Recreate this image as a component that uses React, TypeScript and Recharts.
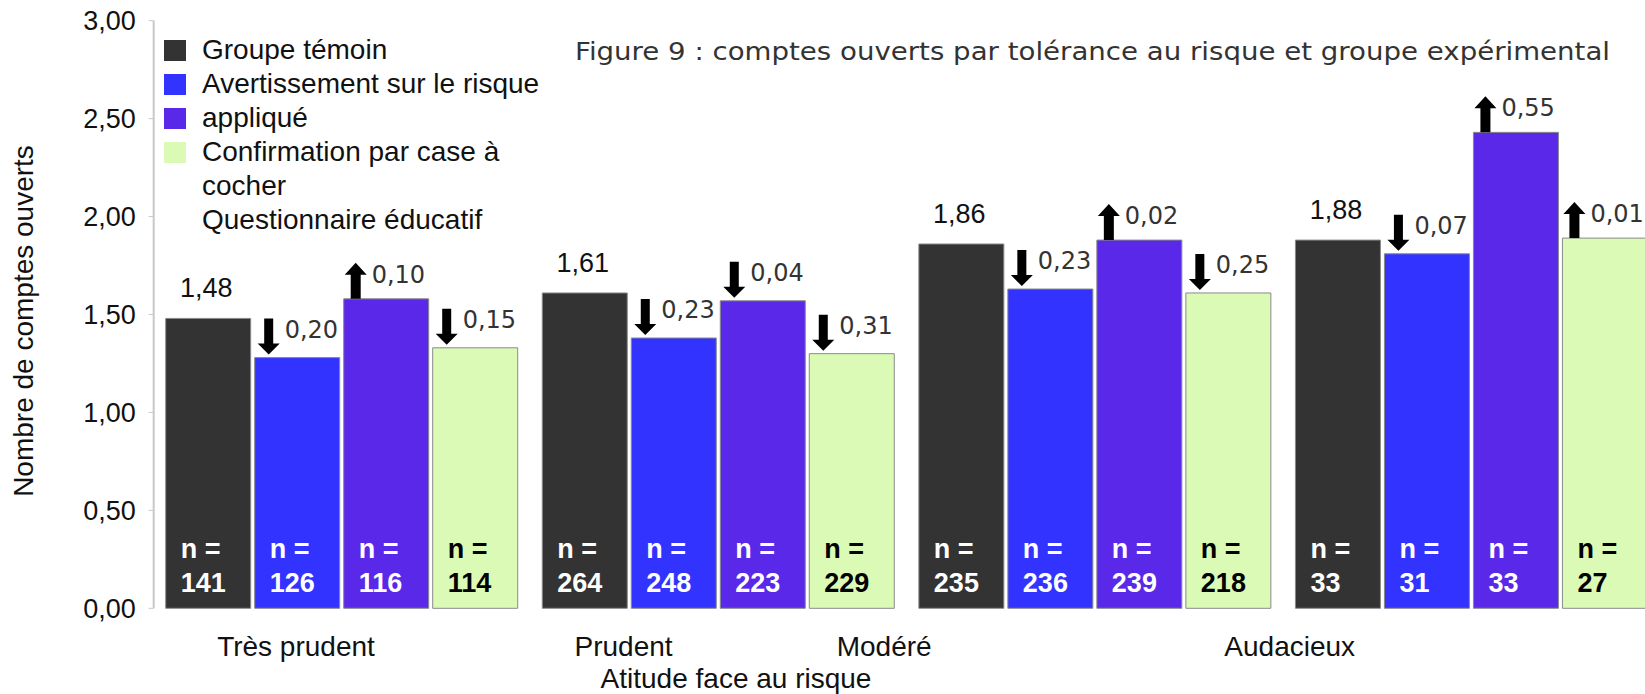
import React from "react";
import { Bar, BarChart, LabelList, Legend, XAxis, YAxis } from "recharts";

const categories = ["Très prudent", "Prudent", "Modéré", "Audacieux"];
const temoin = [1.48, 1.61, 1.86, 1.88];
const avertissement = [1.28, 1.38, 1.63, 1.81];
const applique = [1.58, 1.57, 1.88, 2.43];
const confirmation = [1.33, 1.3, 1.61, 1.89];

// écarts par rapport au groupe témoin
const deltaAvert = [-0.2, -0.23, -0.23, -0.07];
const deltaAppl = [0.1, -0.04, 0.02, 0.55];
const deltaConf = [-0.15, -0.31, -0.25, 0.01];

const nTemoin = [141, 264, 235, 33];
const nAvert = [126, 248, 236, 31];
const nAppl = [116, 223, 239, 33];
const nConf = [114, 229, 218, 27];

const yTicks = [0, 0.5, 1, 1.5, 2, 2.5, 3];
const legendLines = [
    "Groupe témoin",
    "Avertissement sur le risque",
    "appliqué",
    "Confirmation par case à",
    "cocher",
    "Questionnaire éducatif",
];
const colors = ["#333333", "#3333ff", "#5a28e9", "#dbfab5"];
// the category labels sit off-centre in the original
const labelShift = [-46, -95, -211, -182];

const data = categories.map((cat, i) => ({
    cat,
    temoin: temoin[i],
    avert: avertissement[i],
    appl: applique[i],
    conf: confirmation[i],
    dAvert: deltaAvert[i],
    dAppl: deltaAppl[i],
    dConf: deltaConf[i],
    nTemoin: nTemoin[i],
    nAvert: nAvert[i],
    nAppl: nAppl[i],
    nConf: nConf[i],
}));

const ARIAL = '"Liberation Sans", Arial, sans-serif';
const GOTHIC = '"DejaVu Sans", Verdana, sans-serif';
const fmt = (v: number) => v.toFixed(2).replace(".", ",");

const ValueLabel = (props: any) => {
    const { x, y, width, value } = props;
    return (
        <text x={x + width / 2 - 2} y={y - 21} textAnchor="middle" fontFamily={ARIAL} fontSize={27} fill="#111">
            {fmt(value)}
        </text>
    );
};

const DeltaLabel = (props: any) => {
    const { x, y, value } = props;
    const up = value > 0;
    const cx = x + (up ? 12 : 14);
    const d = up
        ? `M${cx - 5},${y} L${cx - 5},${y - 24} L${cx - 11},${y - 24} L${cx},${y - 36} L${cx + 11},${y - 24} L${cx + 5},${y - 24} L${cx + 5},${y} Z`
        : `M${cx - 4.5},${y - 39} L${cx + 4.5},${y - 39} L${cx + 4.5},${y - 14} L${cx + 11},${y - 14} L${cx},${y - 3} L${cx - 11},${y - 14} L${cx - 4.5},${y - 14} Z`;
    return (
        <g>
            <path d={d} fill="#000" />
            <text x={cx + 16} y={y - (up ? 16 : 20)} fontFamily={GOTHIC} fontSize={24} fill="#333">
                {fmt(Math.abs(value))}
            </text>
        </g>
    );
};

const countLabel = (color: string) => (props: any) => {
    const { x, y, height, value } = props;
    const bottom = y + height;
    return (
        <g fontFamily={ARIAL} fontWeight="bold" fontSize={27} fill={color}>
            <text x={x + 15} y={bottom - 50}>n =</text>
            <text x={x + 15} y={bottom - 16}>{value}</text>
        </g>
    );
};

const CatTick = (props: any) => {
    const { x, y, payload } = props;
    return (
        <text x={x + labelShift[payload.index]} y={y + 40} textAnchor="middle" fontFamily={ARIAL} fontSize={28} fill="#111">
            {payload.value}
        </text>
    );
};

const LegendBox = () => (
    <div style={{ fontFamily: ARIAL, fontSize: 28, color: "#111" }}>
        {legendLines.map((t, i) => (
            <div key={t} style={{ display: "flex", alignItems: "center", height: 34, whiteSpace: "nowrap" }}>
                <span
                    style={{
                        display: "inline-block",
                        width: 22,
                        height: 21,
                        marginRight: 16,
                        background: i < 4 ? colors[i] : "transparent",
                    }}
                />
                <span>{t}</span>
            </div>
        ))}
    </div>
);

export default function App() {
    return (
        <div style={{ position: "fixed", left: 0, top: 0, width: 1645, height: 694, overflow: "hidden", background: "#fff" }}>
            <BarChart
                width={1680}
                height={694}
                data={data}
                margin={{ top: 20.7, right: 20, bottom: 25.7, left: 0 }}
                barSize={85}
                barGap={4}
            >
                <XAxis dataKey="cat" axisLine={false} tickLine={false} height={60} interval={0} tick={<CatTick />} />
                <YAxis
                    domain={[0, 3]}
                    ticks={yTicks}
                    width={153.7}
                    tickFormatter={fmt}
                    axisLine={{ stroke: "#c8c8c8", strokeWidth: 2 }}
                    tickLine={{ stroke: "#c8c8c8" }}
                    tickSize={5}
                    tickMargin={13}
                    tick={{ fill: "#111", fontSize: 27, fontFamily: ARIAL }}
                />
                <Legend
                    layout="vertical"
                    align="center"
                    verticalAlign="middle"
                    content={<LegendBox />}
                    wrapperStyle={{ top: 33, left: 164, width: 400 }}
                />
                <Bar dataKey="temoin" name={legendLines[0]} fill={colors[0]} stroke="#8a8a8a" strokeWidth={1} isAnimationActive={false}>
                    <LabelList dataKey="temoin" content={ValueLabel} />
                    <LabelList dataKey="nTemoin" content={countLabel("#fff")} />
                </Bar>
                <Bar dataKey="avert" name={legendLines[1]} fill={colors[1]} stroke="#8a8a8a" strokeWidth={1} isAnimationActive={false}>
                    <LabelList dataKey="dAvert" content={DeltaLabel} />
                    <LabelList dataKey="nAvert" content={countLabel("#fff")} />
                </Bar>
                <Bar dataKey="appl" name={legendLines[2]} fill={colors[2]} stroke="#8a8a8a" strokeWidth={1} isAnimationActive={false}>
                    <LabelList dataKey="dAppl" content={DeltaLabel} />
                    <LabelList dataKey="nAppl" content={countLabel("#fff")} />
                </Bar>
                <Bar dataKey="conf" name={legendLines[3]} fill={colors[3]} stroke="#8a8a8a" strokeWidth={1} isAnimationActive={false}>
                    <LabelList dataKey="dConf" content={DeltaLabel} />
                    <LabelList dataKey="nConf" content={countLabel("#000")} />
                </Bar>
            </BarChart>
            <svg width={1645} height={694} style={{ position: "absolute", left: 0, top: 0, pointerEvents: "none" }}>
                <text x={575} y={60} fontFamily={GOTHIC} fontSize={25} fill="#333" textLength={1035} lengthAdjust="spacingAndGlyphs">
                    Figure 9 : comptes ouverts par tolérance au risque et groupe expérimental
                </text>
                <text transform="translate(33,321) rotate(-90)" textAnchor="middle" fontFamily={ARIAL} fontSize={28} fill="#111">
                    Nombre de comptes ouverts
                </text>
                <text x={736} y={688} textAnchor="middle" fontFamily={ARIAL} fontSize={28} fill="#111">
                    Atitude face au risque
                </text>
            </svg>
        </div>
    );
}
